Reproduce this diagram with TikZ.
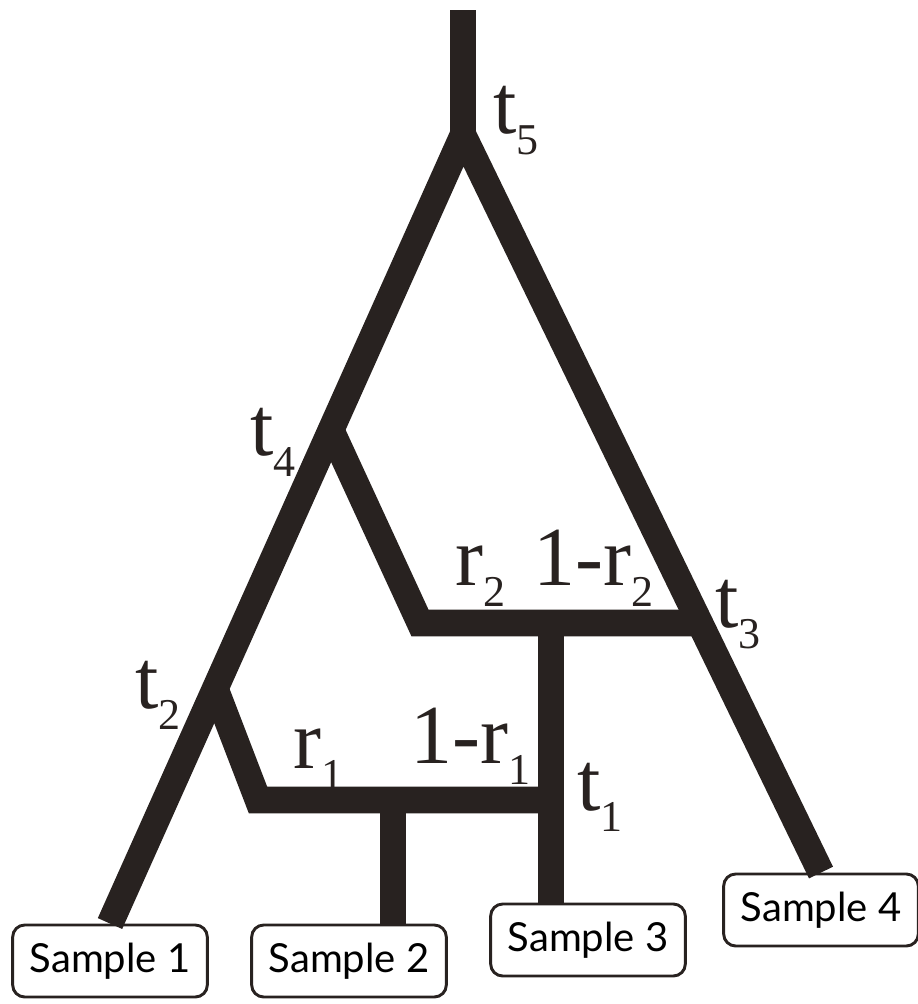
\documentclass[tikz,border=0pt]{standalone}
\usepackage{fontspec}
\setmainfont{Liberation Serif}
\newfontfamily\samplefont{Lato}
\usetikzlibrary{positioning, calc}
\definecolor{treeink}{RGB}{40, 34, 32}
\newcommand\lowidx[1]{\raisebox{-16pt}{\fontsize{33}{33}\selectfont #1}}
\tikzset{
  branch/.style={draw=treeink, line width=20pt, line join=miter},
  sample/.style={draw=treeink, line width=2.2pt, rounded corners=9pt, fill=white,
    minimum width=146pt, minimum height=54pt, inner sep=4pt,
    font=\samplefont\fontsize{30}{30}\selectfont},
  tlabel/.style={anchor=base west, inner sep=0pt, text=treeink,
    font=\fontsize{63}{63}\selectfont}
}

\begin{document}
\begin{tikzpicture}[x=0.75pt, y=-0.75pt]
  \useasboundingbox (0,0) rectangle (918,1004);

  \node[sample] (s1) at (110,961) {Sample 1};
  \node[sample] (s2) at (349,961) {Sample 2};
  \node[sample] (s3) at (588,940) {Sample 3};
  \node[sample] (s4) at (821,910) {Sample 4};

  \coordinate (top) at (463,10);
  \coordinate (t5) at (463,135);
  \coordinate (t4) at (331,430);
  \coordinate (k4) at (420,623);
  \coordinate (t3) at (699,623);
  \coordinate (t1) at (551,623);
  \coordinate (t2) at (215,688);
  \coordinate (k2) at (258,800);
  \coordinate (j1) at (551,800);
  \coordinate (j2) at (393,800);

  \draw[branch] (top) -- (t5);
  \draw[branch] (s1.north) -- (t5) -- (s4.north);
  \draw[branch] (t4) -- (k4) -- (t3);
  \draw[branch] (t1) -- (t1 |- s3.north);
  \draw[branch] (t2) -- (k2) -- (j1);
  \draw[branch] (j2) -- (j2 |- s2.north);

  \node[tlabel] (l5) at (493,133) {t\lowidx{5}};
  \node[tlabel] (l4) at (250,455) {t\lowidx{4}};
  \node[tlabel] (l3) at (715,627) {t\lowidx{3}};
  \node[tlabel] (l2) at (135,708) {t\lowidx{2}};
  \node[tlabel] (l1) at (577,810) {t\lowidx{1}};
  \node[tlabel] (lr2) at (455,585) {r\lowidx{2}};
  \node[tlabel] (lq2) at (533,585) {1-r\lowidx{2}};
  \node[tlabel] (lr1) at (293,768) {r\lowidx{1}};
  \node[tlabel] (lq1) at (410,763) {1-r\lowidx{1}};
\end{tikzpicture}
\end{document}
